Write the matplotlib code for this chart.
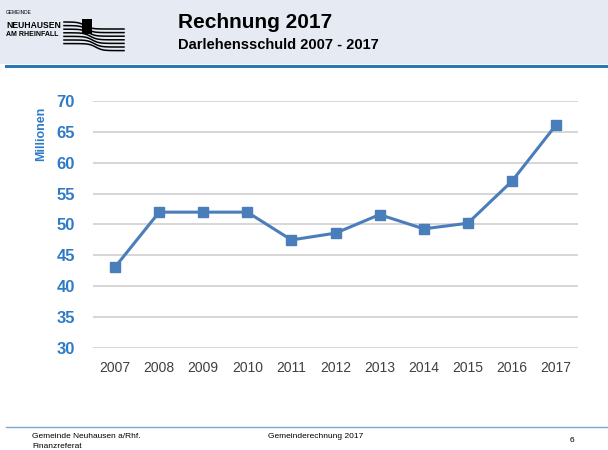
import numpy as np
import matplotlib.pyplot as plt
from matplotlib.patches import Rectangle

plt.rcParams['font.family'] = ['Liberation Sans', 'DejaVu Sans']

# Daten
jahre = ['2007', '2008', '2009', '2010', '2011', '2012', '2013', '2014', '2015', '2016', '2017']
schuld = [43.1, 52.0, 52.0, 52.0, 47.5, 48.6, 51.6, 49.3, 50.2, 57.0, 66.1]
y_ticks = [30, 35, 40, 45, 50, 55, 60, 65, 70]

W, H = 608, 450
fig = plt.figure(figsize=(W / 100, H / 100), dpi=100)

# Kopfzeile
fig.patches.append(Rectangle((0, 1 - 64 / H), 1, 64 / H, transform=fig.transFigure,
                             facecolor='#e5eaf3', edgecolor='none', zorder=0))
fig.add_artist(plt.Line2D([6 / W, 1], [1 - 66 / H] * 2, color='#2e75b6', lw=2.2))
fig.text(178 / W, 1 - 22 / H, 'Rechnung 2017', fontsize=15, fontweight='bold', va='center')
fig.text(178 / W, 1 - 45 / H, 'Darlehensschuld 2007 - 2017', fontsize=10.5, fontweight='bold', va='center')

# Logo
fig.text(6 / W, 1 - 12 / H, 'GEMEINDE', fontsize=3.5, va='center')
fig.text(6 / W, 1 - 25 / H, 'NEUHAUSEN', fontsize=6.2, fontweight='heavy', va='center')
fig.text(6 / W, 1 - 35 / H, 'AM RHEINFALL', fontsize=5.0, fontweight='heavy', va='center')
t = np.linspace(0, 1, 60)
for k in range(7):
    xs = 64 + t * 60
    ys = 22 + k * 3.6 + 7 * (1 / (1 + np.exp(-(t - 0.35 - k * 0.03) * 18)))
    fig.add_artist(plt.Line2D(xs / W, 1 - ys / H, color='black', lw=1.1))
fig.patches.append(Rectangle((82 / W, 1 - 34 / H), 10 / W, 15 / H, transform=fig.transFigure,
                             facecolor='black', edgecolor='none'))

# Diagramm
ax = fig.add_axes([93 / W, 1 - 348 / H, 485 / W, 247 / H])
x = np.arange(len(jahre))
ax.plot(x, schuld, color='#4a7ebb', lw=2.2, marker='s', markersize=6.5,
        markerfacecolor='#4a7ebb', markeredgecolor='#4a7ebb', zorder=3)
ax.set_xlim(-0.5, len(jahre) - 0.5)
ax.set_ylim(30, 70)
ax.set_yticks(y_ticks)
ax.set_xticks(x)
ax.set_xticklabels(jahre, fontsize=10, color='#404040')
ax.set_yticklabels([str(v) for v in y_ticks], fontsize=12, fontweight='bold', color='#2f7ac6')
ax.grid(axis='y', color='#cfcfcf', lw=1.2)
ax.set_axisbelow(True)
for s in ax.spines.values():
    s.set_visible(False)
ax.tick_params(length=0)
ax.tick_params(axis='y', pad=13)
ax.tick_params(axis='x', pad=9)
ax.set_ylabel('Millionen', fontsize=9, fontweight='bold', color='#2f7ac6', labelpad=2)
ax.yaxis.set_label_coords(-46 / 485, 1 - 33 / 247)

# Fusszeile
fig.add_artist(plt.Line2D([6 / W, 1], [1 - 427 / H] * 2, color='#7aa6d6', lw=1))
fig.text(32 / W, 1 - 436 / H, 'Gemeinde Neuhausen a/Rhf.', fontsize=6, va='center')
fig.text(32 / W, 1 - 446 / H, 'Finanzreferat', fontsize=6, va='center')
fig.text(268 / W, 1 - 436 / H, 'Gemeinderechnung 2017', fontsize=6, va='center')
fig.text(570 / W, 1 - 440 / H, '6', fontsize=6, va='center')

fig.savefig('out.png', dpi=100)
